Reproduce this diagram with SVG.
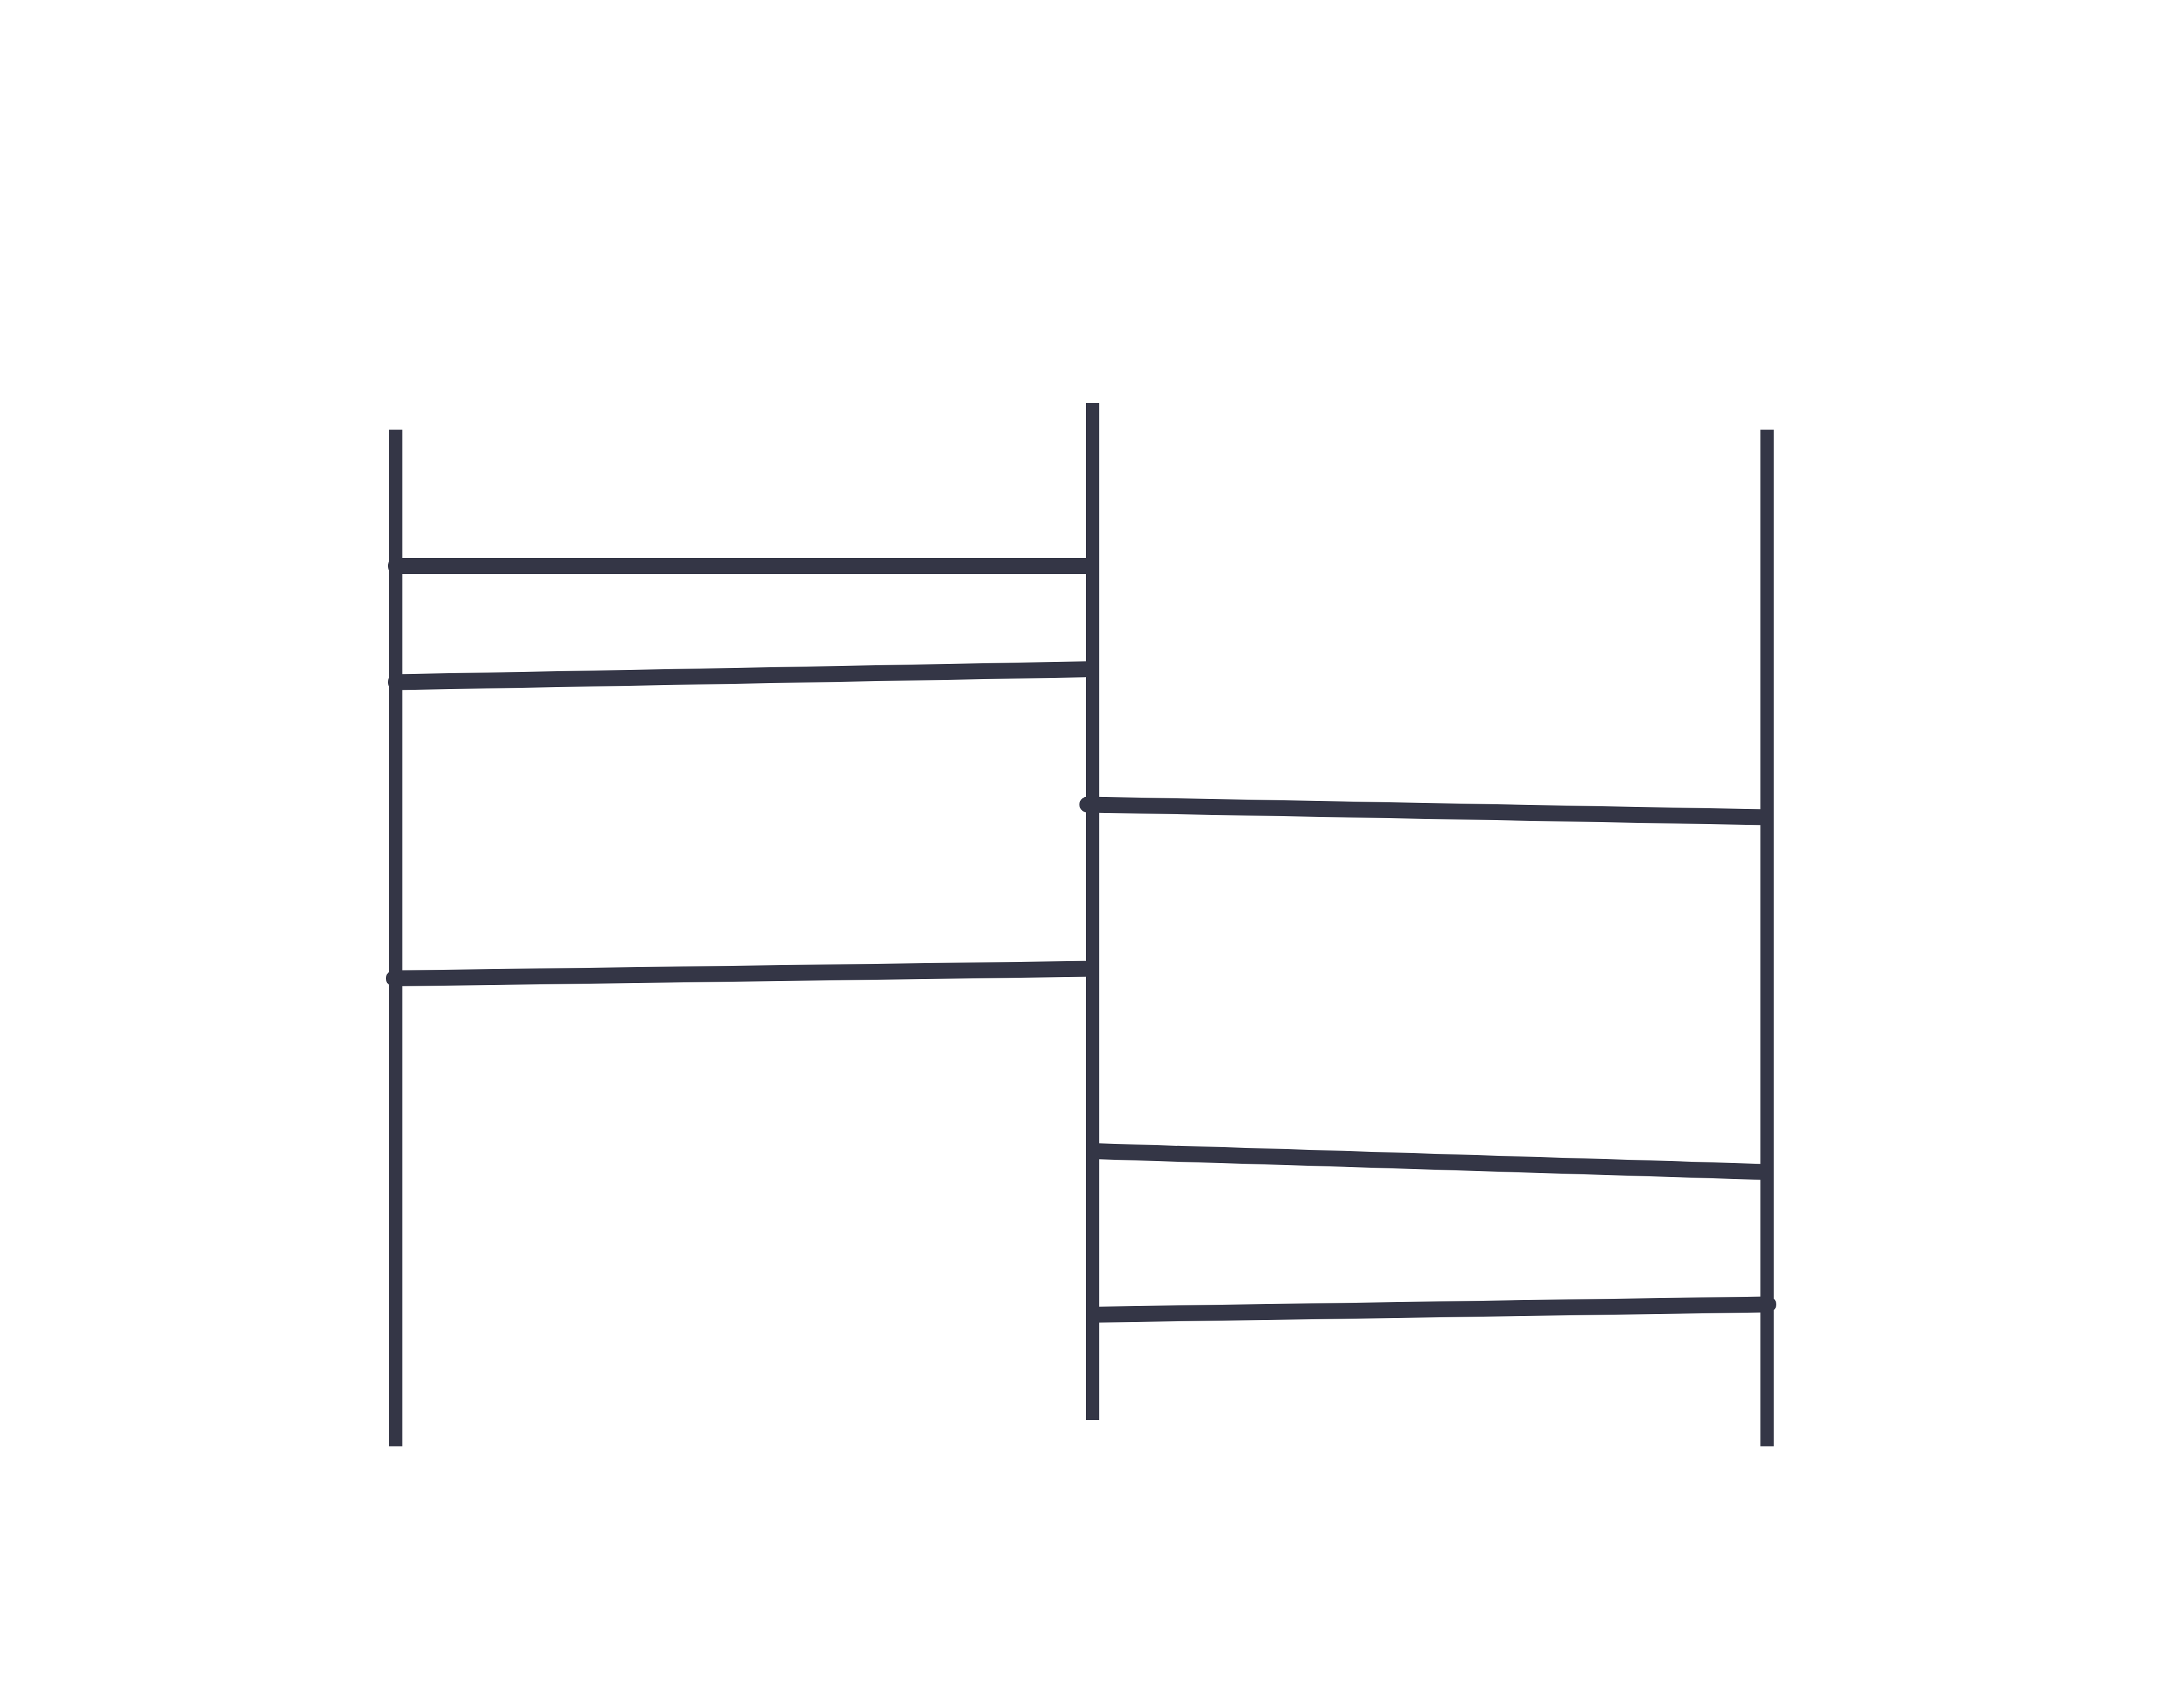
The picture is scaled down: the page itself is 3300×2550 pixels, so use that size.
<svg xmlns="http://www.w3.org/2000/svg" width="3300" height="2550" viewBox="0 0 3300 2550">
<style>
.life{stroke:#343646;stroke-width:20;stroke-linecap:butt;fill:none}
.msg{stroke:#343646;stroke-width:24;stroke-linecap:round;fill:none}
</style>
<rect width="3300" height="2550" fill="#ffffff"/>
<g id="connectors">
<line class="msg" x1="598" y1="855" x2="1649" y2="855"/>
<line class="msg" x1="598" y1="1030.5" x2="1649" y2="1011"/>
<line class="msg" x1="1643" y1="1215.5" x2="2668" y2="1234.5"/>
<line class="msg" x1="595" y1="1478" x2="1649" y2="1463.5"/>
<line class="msg" x1="1653" y1="1739" x2="2668" y2="1770.5"/>
<line class="msg" x1="1653" y1="1986" x2="2672" y2="1970.5"/>
</g>
<g id="lifeline-a"><line class="life" x1="598" y1="649" x2="598" y2="2185"/></g>
<g id="lifeline-b"><line class="life" x1="1651" y1="609" x2="1651" y2="2145"/></g>
<g id="lifeline-c"><line class="life" x1="2670" y1="649" x2="2670" y2="2185"/></g>
</svg>
